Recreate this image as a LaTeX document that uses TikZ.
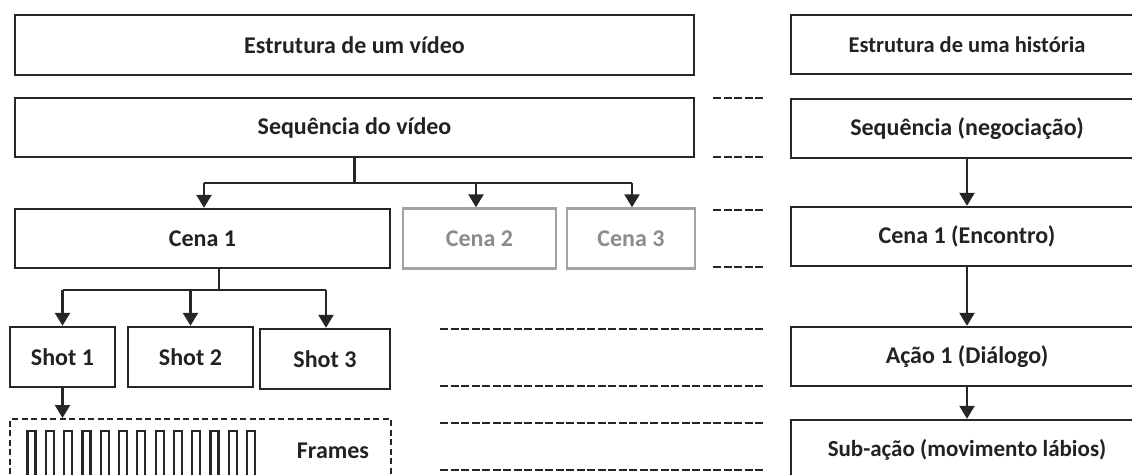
\documentclass[tikz,border=0pt]{standalone}
\usepackage{fontspec}
\setmainfont{Carlito}
\usetikzlibrary{arrows.meta}
\definecolor{lc}{HTML}{262626}
\definecolor{tc}{HTML}{222222}
\definecolor{gl}{HTML}{A3A3A3}
\definecolor{gt}{HTML}{8C8C8C}
\begin{document}
\begin{tikzpicture}[x=1pt,y=-1pt,
  box/.style={draw=lc, line width=2.4pt, inner sep=0pt, font=\bfseries\fontsize{24}{24}\selectfont, text=tc},
  gbox/.style={box, draw=gl, text=gt},
  ln/.style={draw=lc, line width=2.4pt},
  arr/.style={ln, -{Triangle[width=15pt,length=13pt]}},
  dsh/.style={draw=lc, line width=2.4pt, dash pattern=on 8pt off 2.5pt},
  fbox/.style={draw=lc, line width=2pt, dash pattern=on 6pt off 3.5pt, inner sep=0pt},
  frm/.style={draw=lc, line width=2.2pt}]
\useasboundingbox (0,0) rectangle (1132,474);
\clip (0,0) rectangle (1132,474);
\fill[white] (0,0) rectangle (1132,474);
% left column
\node[box, minimum width=679, minimum height=60] (vid) at (354.5,45) {Estrutura de um vídeo};
\node[box, minimum width=679, minimum height=59] (seq) at (354.5,127.5) {Sequência do vídeo};
\node[box, minimum width=375, minimum height=59] (c1) at (202.5,238.5) {Cena 1};
\node[gbox, minimum width=153, minimum height=60] (c2) at (479.5,238.5) {Cena 2};
\node[gbox, minimum width=128, minimum height=60] (c3) at (631,238.5) {Cena 3};
\node[box, minimum width=105, minimum height=60] (s1) at (62.5,357) {Shot 1};
\node[box, minimum width=125, minimum height=60] (s2) at (190.5,357) {Shot 2};
\node[box, minimum width=130, minimum height=60] (s3) at (325,359) {Shot 3};
\node[fbox, minimum width=381, minimum height=82] (fr) at (200.5,460) {};
\node[font=\bfseries\fontsize{24}{24}\selectfont, text=tc] (frt) at (333,451) {Frames};
\foreach \i in {0,...,12}{
  \draw[frm] (27.5+\i*18.3,431) rectangle ++(8,50);
}
% right column
\node[box, minimum width=352, minimum height=59, font=\bfseries\fontsize{22.5}{22.5}\selectfont] (h1) at (967,44.5) {Estrutura de uma história};
\node[box, minimum width=352, minimum height=59] (h2) at (967,128.5) {Sequência (negociação)};
\node[box, minimum width=352, minimum height=59] (h3) at (967,236.5) {Cena 1 (Encontro)};
\node[box, minimum width=352, minimum height=59] (h4) at (967,356.5) {Ação 1 (Diálogo)};
\node[box, minimum width=352, minimum height=59, font=\bfseries\fontsize{23}{23}\selectfont] (h5) at (967,449.5) {Sub-ação (movimento lábios)};
% connectors left
\coordinate (j0) at (354.5,183);
\coordinate (b1) at (204,183);
\coordinate (b2) at (476,183);
\coordinate (b3) at (632,183);
\draw[ln] (seq.south) -- (j0);
\draw[ln] (b1) -- (b3);
\draw[arr] (b1) -- (b1 |- c1.north);
\draw[arr] (b2) -- (b2 |- c2.north);
\draw[arr] (b3) -- (b3 |- c3.north);
\coordinate (d0) at (219,290);
\coordinate (e1) at (62.5,290);
\coordinate (e2) at (190.5,290);
\coordinate (e3) at (326,290);
\draw[ln] (d0 |- c1.south) -- (d0);
\draw[ln] (e1) -- (e3);
\draw[arr] (e1) -- (e1 |- s1.north);
\draw[arr] (e2) -- (e2 |- s2.north);
\draw[arr] (e3) -- (e3 |- s3.north);
\draw[arr] (s1.south) -- (s1.south |- fr.north);
% connectors right
\draw[arr] (h2.south) -- (h3.north);
\draw[arr] (h3.south) -- (h4.north);
\draw[arr] (h4.south) -- (h5.north);
% dashed level markers
\foreach \y in {98,157,210,267}{
  \draw[dsh] (713,\y) -- (765,\y);
}
\foreach \y in {329,386,423,470}{
  \draw[dsh] (440,\y) -- (765,\y);
}
\end{tikzpicture}
\end{document}
